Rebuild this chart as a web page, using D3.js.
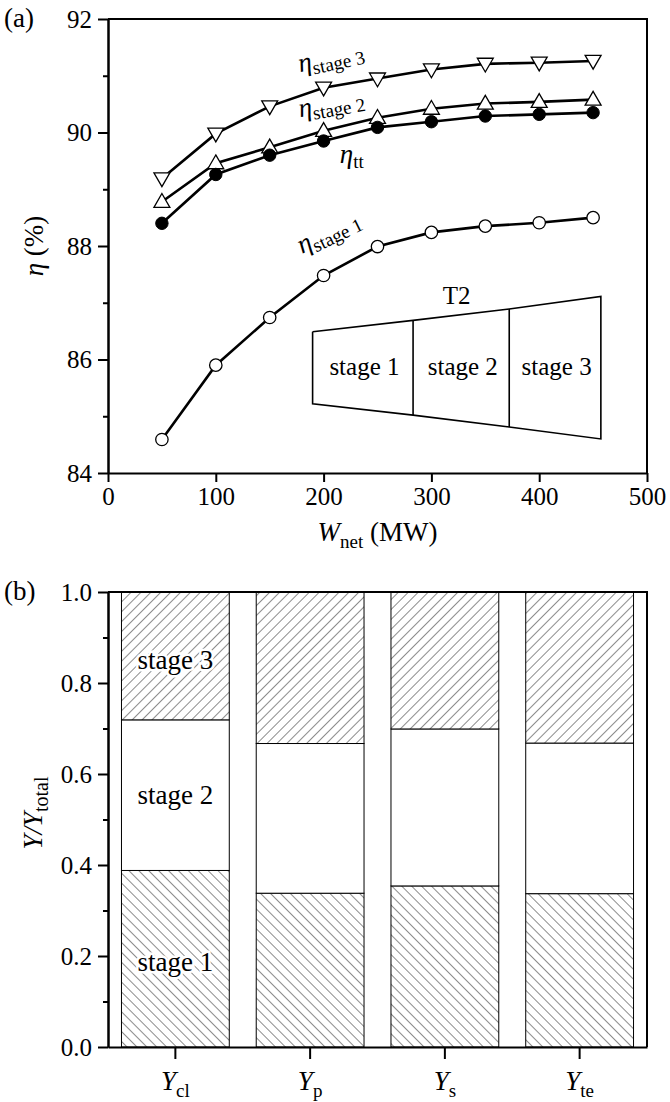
<!DOCTYPE html>
<html>
<head>
<meta charset="utf-8">
<script src="https://cdn.jsdelivr.net/npm/d3@7"></script>
<style>
  body { margin: 0; background: #fff; }
</style>
</head>
<body>
<svg id="fig" width="670" height="1102"></svg>
<script>
// ---- panel (a): efficiency vs net power ----
const wnet = [50, 100, 150, 200, 250, 300, 350, 400, 450];
const etaStage1 = [84.59, 85.90, 86.74, 87.48, 87.99, 88.24, 88.35, 88.41, 88.50];
const etaStage2 = [88.78, 89.46, 89.74, 90.03, 90.26, 90.42, 90.51, 90.54, 90.58];
const etaStage3 = [89.19, 89.98, 90.46, 90.79, 90.95, 91.11, 91.21, 91.23, 91.26];
const etaTT     = [88.40, 89.26, 89.60, 89.85, 90.09, 90.19, 90.29, 90.32, 90.35];
const xTicksA = [0, 100, 200, 300, 400, 500];
const yTicksA = [84, 86, 88, 90, 92];
const yMinorA = [85, 87, 89, 91];

// turbine sketch: axial stations and casing heights, in panel (a) axis units
const casingX      = [189.8, 283.0, 372.2, 457.2];
const casingTop    = [86.49, 86.69, 86.89, 87.11];
const casingBottom = [85.22, 85.02, 84.81, 84.60];
const stageNames = ["stage 1", "stage 2", "stage 3"];

// ---- panel (b): loss share per stage ----
const lossKinds = ["cl", "p", "s", "te"];
const shareStage1 = [0.388, 0.338, 0.354, 0.337];
const shareStage2 = [0.331, 0.329, 0.345, 0.331];
const shareStage3 = [0.281, 0.333, 0.301, 0.332];
const yTicksB = [0, 0.2, 0.4, 0.6, 0.8, 1.0];
const yMinorB = [0.1, 0.3, 0.5, 0.7, 0.9];

const FF = "Liberation Serif";
const FS = 25;
const svg = d3.select("#fig").style("font-family", FF);

// ================= panel (a) =================
const A = { l: 108, r: 647, t: 19, b: 473 };
const x = d3.scaleLinear([0, 500], [A.l, A.r]);
const y = d3.scaleLinear([84, 92], [A.b, A.t]);
const gA = svg.append("g");

function styleAxis(g) {
  g.attr("font-family", FF);
  g.select(".domain").attr("stroke", "#000").attr("stroke-width", 2);
  g.selectAll(".tick line").attr("stroke", "#000").attr("stroke-width", 2);
  g.selectAll(".tick text").style("font-size", FS + "px").attr("fill", "#000");
}

gA.append("g").attr("transform", `translate(0,${A.b})`)
  .call(d3.axisBottom(x).tickValues(xTicksA).tickSize(9).tickSizeOuter(0).tickPadding(5).tickFormat(d3.format("d")))
  .call(styleAxis);
gA.append("g").attr("transform", `translate(${A.l},0)`)
  .call(d3.axisLeft(y).tickValues(yTicksA).tickSize(10).tickSizeOuter(0).tickPadding(6).tickFormat(d3.format("d")))
  .call(styleAxis);
gA.append("g").attr("transform", `translate(${A.l},0)`)
  .call(d3.axisLeft(y).tickValues(yMinorA).tickSize(5).tickSizeOuter(0).tickFormat(""))
  .call(styleAxis);
// frame top & right
gA.append("path").attr("d", `M${A.l},${A.t}H${A.r}V${A.b}`).attr("fill", "none").attr("stroke", "#000").attr("stroke-width", 2);

// turbine sketch
const skTop = casingX.map((cx, i) => [x(cx), y(casingTop[i])]);
const skBot = casingX.map((cx, i) => [x(cx), y(casingBottom[i])]);
gA.append("path")
  .attr("d", d3.line()([...skTop, ...skBot.slice().reverse(), skTop[0]]))
  .attr("fill", "none").attr("stroke", "#000").attr("stroke-width", 1.6);
[1, 2].forEach(i => {
  gA.append("line").attr("x1", skTop[i][0]).attr("y1", skTop[i][1])
    .attr("x2", skBot[i][0]).attr("y2", skBot[i][1])
    .attr("stroke", "#000").attr("stroke-width", 1.6);
});
gA.append("text").attr("x", x(323.5)).attr("y", y(86.98)).attr("text-anchor", "middle")
  .style("font-size", FS + "px").text("T2");
stageNames.forEach((s, i) => {
  gA.append("text").attr("x", x((casingX[i] + casingX[i + 1]) / 2 + 1.5)).attr("y", y(85.73))
    .attr("text-anchor", "middle").style("font-size", FS + "px").text(s);
});

// curves
const line = d3.line().x((d, i) => x(wnet[i])).y(d => y(d));
[etaStage3, etaStage2, etaTT, etaStage1].forEach(series => {
  gA.append("path").attr("d", line(series)).attr("fill", "none")
    .attr("stroke", "#000").attr("stroke-width", 2.6);
});
const tri = d3.symbol(d3.symbolTriangle, 110)();
// stage 3: down triangles
gA.append("g").selectAll("path").data(etaStage3).join("path")
  .attr("d", tri).attr("transform", (d, i) => `translate(${x(wnet[i])},${y(d) - 1}) rotate(180)`)
  .attr("fill", "#fff").attr("stroke", "#000").attr("stroke-width", 1.3);
// stage 2: up triangles
gA.append("g").selectAll("path").data(etaStage2).join("path")
  .attr("d", tri).attr("transform", (d, i) => `translate(${x(wnet[i])},${y(d) + 1})`)
  .attr("fill", "#fff").attr("stroke", "#000").attr("stroke-width", 1.3);
// total-to-total: filled circles
gA.append("g").selectAll("circle").data(etaTT).join("circle")
  .attr("cx", (d, i) => x(wnet[i])).attr("cy", d => y(d)).attr("r", 6.2)
  .attr("fill", "#000").attr("stroke", "#000").attr("stroke-width", 1);
// stage 1: open circles
gA.append("g").selectAll("circle").data(etaStage1).join("circle")
  .attr("cx", (d, i) => x(wnet[i])).attr("cy", d => y(d)).attr("r", 6.2)
  .attr("fill", "#fff").attr("stroke", "#000").attr("stroke-width", 1.3);

// curve labels
function etaLabel(sub, mx, my, angle) {
  const t = gA.append("text").attr("transform", `translate(${x(mx)},${y(my)}) rotate(${angle})`)
    .style("font-size", "27px");
  t.append("tspan").style("font-style", "italic").text("η");
  t.append("tspan").attr("dy", 5).style("font-size", "19px").text(sub);
}
etaLabel("stage 3", 178, 91.06, -12);
etaLabel("stage 2", 178, 90.27, -10);
etaLabel("tt", 215, 89.47, 0);
etaLabel("stage 1", 180, 87.86, -26);

// axis titles
const xt = gA.append("text").attr("x", (A.l + A.r) / 2).attr("y", 541).attr("text-anchor", "middle")
  .style("font-size", "27px");
xt.append("tspan").style("font-style", "italic").text("W");
xt.append("tspan").attr("dy", 7).style("font-size", "19px").text("net");
xt.append("tspan").attr("dy", -7).text(" (MW)");

const yt = gA.append("text").attr("transform", `translate(43,${(A.t + A.b) / 2}) rotate(-90)`)
  .attr("text-anchor", "middle").style("font-size", "27px");
yt.append("tspan").style("font-style", "italic").text("η");
yt.append("tspan").text(" (%)");

svg.append("text").attr("x", 4).attr("y", 27).style("font-size", "27px").text("(a)");

// ================= panel (b) =================
const B = { l: 108, r: 647, t: 592, b: 1047 };
const defs = svg.append("defs");
function hatch(id, angle) {
  const p = defs.append("pattern").attr("id", id).attr("patternUnits", "userSpaceOnUse")
    .attr("width", 7).attr("height", 7).attr("patternTransform", `rotate(${angle})`);
  p.append("rect").attr("width", 7).attr("height", 7).attr("fill", "#fff");
  p.append("line").attr("x1", 0).attr("y1", 0).attr("x2", 0).attr("y2", 7)
    .attr("stroke", "#1a1a1a").attr("stroke-width", 1);
}
hatch("hatchBack", -45);
hatch("hatchFwd", 45);

const rows = lossKinds.map((k, i) => ({ kind: k, s1: shareStage1[i], s2: shareStage2[i], s3: shareStage3[i] }));
const stacked = d3.stack().keys(["s1", "s2", "s3"])(rows);
const xb = d3.scaleBand(lossKinds, [B.l, B.r]).paddingInner(0.2).paddingOuter(0.1);
const yb = d3.scaleLinear([0, 1], [B.b, B.t]);
const fills = { s1: "url(#hatchBack)", s2: "#fff", s3: "url(#hatchFwd)" };

const gB = svg.append("g");
stacked.forEach(layer => {
  gB.append("g").selectAll("rect").data(layer).join("rect")
    .attr("x", d => xb(d.data.kind)).attr("width", xb.bandwidth())
    .attr("y", d => yb(d[1])).attr("height", d => yb(d[0]) - yb(d[1]))
    .attr("fill", fills[layer.key]).attr("stroke", "#000").attr("stroke-width", 1);
});

// stage names on the first bar
const cx0 = xb(lossKinds[0]) + xb.bandwidth() / 2;
[["stage 3", 669], ["stage 2", 804], ["stage 1", 971]].forEach(([s, by]) => {
  gB.append("text").attr("x", cx0).attr("y", by).attr("text-anchor", "middle")
    .style("font-size", "27px").attr("stroke", "#fff").attr("stroke-width", 5)
    .style("paint-order", "stroke").text(s);
});

const axB = gB.append("g").attr("transform", `translate(0,${B.b})`)
  .call(d3.axisBottom(xb).tickSize(12).tickSizeOuter(0).tickFormat(""))
  .call(styleAxis);
axB.selectAll(".tick").each(function (k) {
  const t = d3.select(this).append("text").attr("y", 43).attr("text-anchor", "middle")
    .style("font-size", "27px").attr("fill", "#000");
  t.append("tspan").style("font-style", "italic").text("Y");
  t.append("tspan").attr("dy", 7).style("font-size", "19px").text(k);
});
gB.append("g").attr("transform", `translate(${B.l},0)`)
  .call(d3.axisLeft(yb).tickValues(yTicksB).tickSize(10).tickSizeOuter(0).tickPadding(6).tickFormat(d3.format(".1f")))
  .call(styleAxis);
gB.append("g").attr("transform", `translate(${B.l},0)`)
  .call(d3.axisLeft(yb).tickValues(yMinorB).tickSize(5).tickSizeOuter(0).tickFormat(""))
  .call(styleAxis);
gB.append("path").attr("d", `M${B.l},${B.t}H${B.r}V${B.b}`).attr("fill", "none").attr("stroke", "#000").attr("stroke-width", 2);

const ytb = gB.append("text").attr("transform", `translate(42,813) rotate(-90)`)
  .attr("text-anchor", "middle").style("font-size", "27px");
ytb.append("tspan").style("font-style", "italic").text("Y/Y");
ytb.append("tspan").attr("dy", 6).style("font-size", "20px").text("total");

svg.append("text").attr("x", 4).attr("y", 600).style("font-size", "27px").text("(b)");

// one serif family for every label
svg.selectAll("text").style("font-family", FF);
</script>
</body>
</html>
